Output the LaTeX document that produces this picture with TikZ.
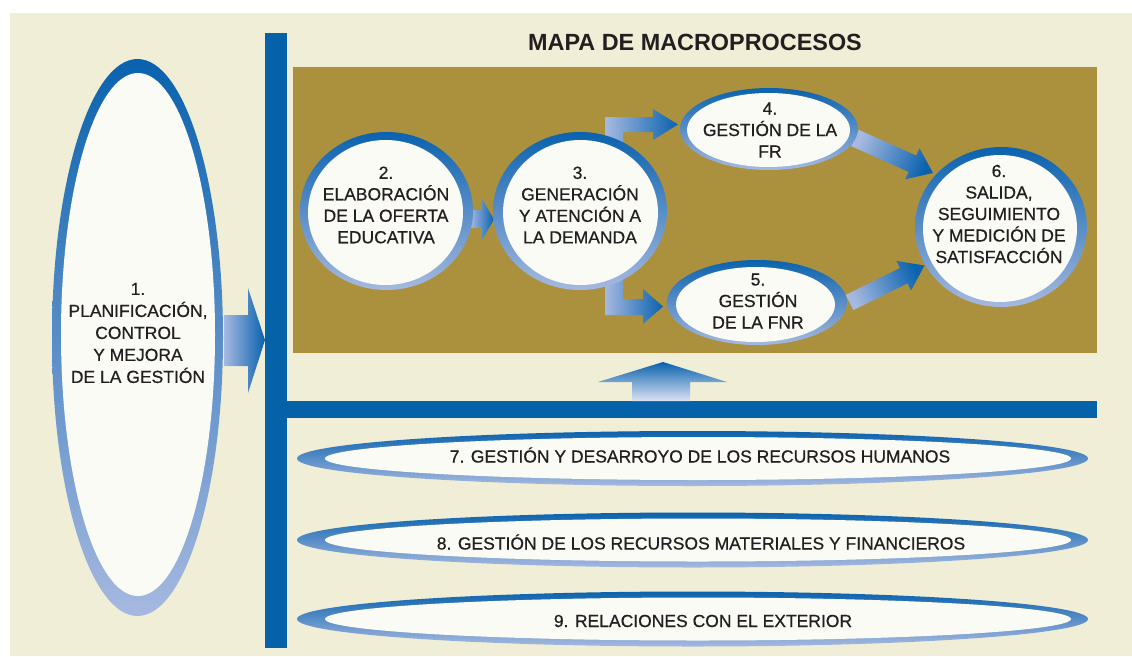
\documentclass[tikz,border=0pt]{standalone}
\usepackage{fontspec}
\setmainfont{Liberation Sans}
\newfontfamily\medfont[FakeBold=0.6]{Liberation Sans}
\usetikzlibrary{shapes.geometric}
\definecolor{cream}{HTML}{F0EED6}
\definecolor{gold}{HTML}{AB913E}
\definecolor{barblue}{HTML}{0561A8}
\definecolor{dblue}{HTML}{0A62AE}
\definecolor{lblue}{HTML}{A6B9E0}
\definecolor{paleblue}{HTML}{DCE3F3}
\definecolor{inwhite}{HTML}{FBFBF6}
\definecolor{ink}{HTML}{231F20}
\begin{document}
\begin{tikzpicture}[x=1pt,y=-1pt,
  ring/.style={ellipse, draw=none, inner sep=0pt, outer sep=0pt, top color=dblue, bottom color=lblue},
  core/.style={ellipse, draw=none, fill=inwhite, inner sep=0pt, outer sep=0pt},
  lbl/.style={text=ink, align=center, font=\medfont\fontsize{17.5}{21.5}\selectfont, inner sep=0pt},
  lbltall/.style={text=ink, align=center, font=\medfont\fontsize{17.5}{22}\selectfont, inner sep=0pt},
  blockarrow/.style={left color=lblue, right color=dblue},
]
\useasboundingbox (0,0) rectangle (1132,656);
\fill[white] (0,0) rectangle (1132,656);
\fill[cream] (10,13) rectangle (1132,656);
\fill[gold] (293,67) rectangle (1097,353);
\fill[barblue] (265,33) rectangle (287,648);
\fill[barblue] (265,401) rectangle (1097,418);
\node[text=ink, font=\bfseries\fontsize{23.4}{28}\selectfont, inner sep=0pt] (title) at (695,42) {MAPA DE MACROPROCESOS};

% block arrows
\shade[blockarrow] (224,315) -- (248,315) -- (248,288) -- (265,340) -- (248,393) -- (248,366) -- (224,366) -- cycle;
\shade[blockarrow] (470,210) -- (482,210) -- (482,199) -- (494,219.5) -- (482,240) -- (482,228) -- (470,228) -- cycle;
\shade[blockarrow] (605,150) -- (605,117) -- (653,117) -- (653,109) -- (678,124.5) -- (653,140) -- (653,132) -- (623,132) -- (623,150) -- cycle;
\shade[blockarrow] (605,270) -- (623,270) -- (623,299) -- (643,299) -- (643,289) -- (663,306.5) -- (643,324) -- (643,315) -- (605,315) -- cycle;
\shade[left color=lblue, right color=dblue, shading angle=65.8] (858.7,129.8) -- (916.2,155.6) -- (919.5,148.3) -- (933,173) -- (905,179.3) -- (908.8,172) -- (851.3,146.2) -- cycle;
\shade[left color=lblue, right color=dblue, shading angle=116.3] (845.7,294.9) -- (899.9,268.1) -- (896.4,260.9) -- (924.5,265.5) -- (911.0,290.5) -- (907.5,283.3) -- (853.3,310.1) -- cycle;
\shade[top color=dblue, bottom color=paleblue] (632,401) -- (632,382) -- (598,382) -- (663,362) -- (727,382) -- (690,382) -- (690,401) -- cycle;

% process 1
\node[ring, minimum width=171, minimum height=557] (r1) at (137.5,337.5) {};
\node[core, minimum width=154, minimum height=523] (c1) at (138,334.5) {};
\node[lbltall] (t1) at (138,333) {1.\\PLANIFICACIÓN,\\CONTROL\\Y MEJORA\\DE LA GESTIÓN};

% process 2
\node[ring, minimum width=173, minimum height=158] (r2) at (386.5,211) {};
\node[core, minimum width=155, minimum height=145] (c2) at (385.5,212.5) {};
\node[lbl] (t2) at (386,205) {2.\\ELABORACIÓN\\DE LA OFERTA\\EDUCATIVA};

% process 3
\node[ring, minimum width=174, minimum height=158] (r3) at (580,211) {};
\node[core, minimum width=155, minimum height=145] (c3) at (580.5,212.5) {};
\node[lbl] (t3) at (580,205) {3.\\GENERACIÓN\\Y ATENCIÓN A\\LA DEMANDA};

% process 4
\node[ring, minimum width=178, minimum height=82] (r4) at (769,129) {};
\node[core, minimum width=163, minimum height=74] (c4) at (768.5,130) {};
\node[lbl] (t4) at (770,130) {4.\\GESTIÓN DE LA\\FR};

% process 5
\node[ring, minimum width=180, minimum height=85] (r5) at (757,302.5) {};
\node[core, minimum width=159, minimum height=75] (c5) at (755.5,304.5) {};
\node[lbl] (t5) at (758,301) {5.\\GESTIÓN\\DE LA FNR};

% process 6
\node[ring, minimum width=172, minimum height=160] (r6) at (1001,227) {};
\node[core, minimum width=154, minimum height=147] (c6) at (1000,228.5) {};
\node[lbl] (t6) at (999,214) {6.\\SALIDA,\\SEGUIMIENTO\\Y MEDICIÓN DE\\SATISFACCIÓN};

% support processes
\node[ring, minimum width=791, minimum height=55] (r7) at (692.5,458.5) {};
\node[core, minimum width=746, minimum height=43] (c7) at (698,458.5) {};
\node[lbl] (t7) at (700,455) {7. GESTIÓN Y DESARROYO DE LOS RECURSOS HUMANOS};

\node[ring, minimum width=791, minimum height=55] (r8) at (692.5,540) {};
\node[core, minimum width=746, minimum height=43] (c8) at (698,540) {};
\node[lbl] (t8) at (701,542) {8. GESTIÓN DE LOS RECURSOS MATERIALES Y FINANCIEROS};

\node[ring, minimum width=791, minimum height=55] (r9) at (692.5,619) {};
\node[core, minimum width=746, minimum height=43] (c9) at (698,619) {};
\node[lbl] (t9) at (703,621) {9. RELACIONES CON EL EXTERIOR};
\end{tikzpicture}
\end{document}
